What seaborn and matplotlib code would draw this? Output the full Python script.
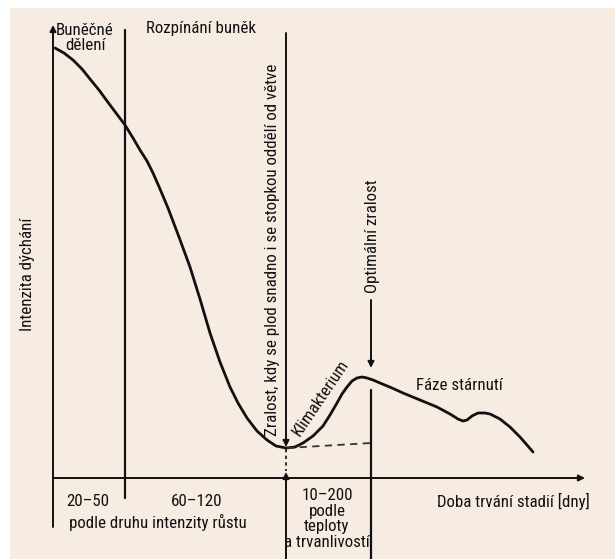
import matplotlib.pyplot as plt
import seaborn as sns
import pandas as pd

# respiration intensity curve (x = stage time, y = intensity)
curve_x = [0.2, 1.1, 2.0, 2.9, 3.7, 4.6, 5.4, 6.3, 7.2, 8.0, 8.7, 9.4, 10.0, 10.7, 11.5,
           12.6, 13.7, 14.7, 15.7, 16.7, 17.7, 18.5, 19.4, 20.4, 21.4, 22.3, 23.3, 24.2,
           25.0, 26.0, 27.0, 27.7, 28.4, 28.9, 29.4, 29.9, 30.4, 30.9, 31.4, 32.0, 32.7,
           33.9, 35.0, 36.7, 38.4, 39.7, 40.5, 41.0, 41.4, 41.9, 42.5, 43.2, 43.7, 44.7,
           45.7, 46.7, 47.4, 48.0]
curve_y = [43.0, 42.5, 41.8, 40.9, 39.9, 38.8, 37.7, 36.5, 35.3, 34.0, 32.8, 31.7, 30.5,
           28.9, 27.0, 24.1, 21.1, 17.9, 14.5, 11.6, 9.1, 7.5, 6.0, 4.7, 3.8, 3.2, 3.0, 3.1,
           3.5, 4.2, 5.2, 6.3, 7.5, 8.4, 9.1, 9.7, 10.0, 10.1, 10.0, 9.8, 9.5,
           9.0, 8.5, 7.8, 7.1, 6.4, 5.9, 5.7, 5.8, 6.2, 6.5, 6.5, 6.4, 5.9,
           5.1, 4.1, 3.3, 2.6]
# baseline without climacteric (dashed)
base_x = [23.4, 31.8]
base_y = [3.0, 3.5]

# stage boundaries on the time axis
stage_bounds = [0, 7.2, 23.3, 31.8]
stage_labels = ['20–50', '60–120', '10–200\npodle\nteploty\na trvanlivostí']

sns.set_style('white')
plt.rcParams['font.family'] = ['Liberation Sans Narrow', 'Roboto Condensed', 'Lato', 'DejaVu Sans']

bg = '#f6ece1'
ink = '#111111'

fig = plt.figure(figsize=(6.15, 5.59), dpi=100)
fig.patch.set_facecolor('white')
ax = fig.add_axes([0, 0, 1, 1])
ax.set_xlim(-5.3, 56.2)
ax.set_ylim(-8.1, 47.8)
ax.axis('off')
# beige panel with white margin at top/left
ax.axvspan(-4.3, 56.2, ymin=0, ymax=1 - 8 / 559, color=bg, zorder=0, lw=0)

df = pd.DataFrame({'x': curve_x, 'y': curve_y})
sns.lineplot(data=df, x='x', y='y', sort=False, color=ink, lw=2.0, ax=ax, zorder=3,
             solid_joinstyle='round', solid_capstyle='round')
sns.lineplot(x=base_x, y=base_y, color='#333333', lw=1.3, ls=(0, (4, 3)), ax=ax, zorder=3)

arrow = dict(arrowstyle='-|>', color=ink, lw=1.4, mutation_scale=9, shrinkA=0, shrinkB=0)

# axes
ax.annotate('', xy=(stage_bounds[0], 45.3), xytext=(stage_bounds[0], -4.9), arrowprops=arrow)
ax.annotate('', xy=(53.2, 0), xytext=(0, 0), arrowprops=arrow)

# boundary after cell division
ax.plot([stage_bounds[1]] * 2, [44.8, -2.0], color=ink, lw=1.6)
# harvest maturity line
ax.annotate('', xy=(stage_bounds[2], 3.1), xytext=(stage_bounds[2], 44.5), arrowprops=arrow)
ax.plot([stage_bounds[2]] * 2, [2.9, 0.7], color=ink, lw=1.2, ls=(0, (2, 2)))
ax.annotate('', xy=(stage_bounds[2], 0.6), xytext=(stage_bounds[2], -8.1), arrowprops=arrow)
# optimal maturity
ax.annotate('', xy=(stage_bounds[3], 11.0), xytext=(stage_bounds[3], 17.8), arrowprops=arrow)
ax.plot([stage_bounds[3]] * 2, [8.8, -8.1], color=ink, lw=1.6)

fs = 12.2
tk = dict(color=ink, fontsize=fs)
ax.text(3.2, 44.0, 'Buněčné\ndělení', ha='center', va='center', linespacing=0.95, **tk)
ax.text(14.8, 45.0, 'Rozpínání buněk', ha='center', va='center', **tk)
ax.text(-2.5, 20.4, 'Intenzita dýchání', rotation=90, ha='center', va='center', **tk)
ax.text(22.0, 22.8, 'Zralost, kdy se plod snadno i se stopkou oddělí od větve',
        rotation=90, ha='center', va='center', **tk)
ax.text(31.9, 24.2, 'Optimální zralost', rotation=90, ha='center', va='center', **tk)
ax.text(26.8, 8.0, 'Klimakterium', rotation=56, ha='center', va='center', **tk)
ax.text(40.6, 9.3, 'Fáze stárnutí', ha='center', va='center', **tk)

ax.text(3.5, -2.3, stage_labels[0], ha='center', va='center', **tk)
ax.text(14.4, -2.3, stage_labels[1], ha='center', va='center', **tk)
ax.text(1.6, -4.4, 'podle druhu intenzity růstu', ha='left', va='center', **tk)
ax.text(27.4, -1.0, stage_labels[2], ha='center', va='top', linespacing=1.06, **tk)
ax.text(38.4, -2.3, 'Doba trvání stadií [dny]', ha='left', va='center', **tk)

fig.savefig('out.png', dpi=100, facecolor='white')
